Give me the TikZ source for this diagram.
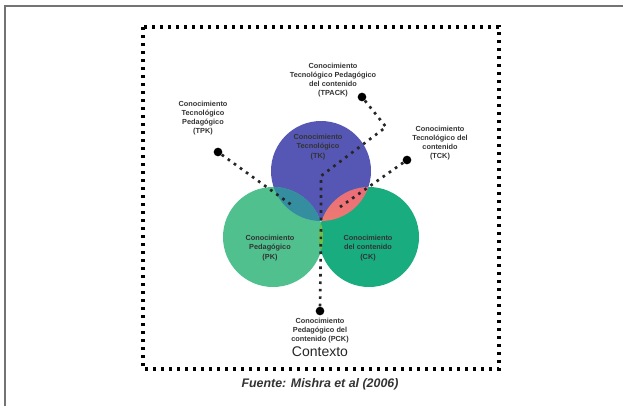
\documentclass[tikz,border=0pt]{standalone}
\usepackage{fontspec}
\setmainfont{Liberation Sans}
\usepackage{tikz}

\definecolor{tkblue}{RGB}{86,86,180}
\definecolor{pkgreen}{RGB}{80,192,142}
\definecolor{ckgreen}{RGB}{24,172,126}
\definecolor{tpkteal}{RGB}{52,142,160}
\definecolor{tckpink}{RGB}{236,108,122}
\definecolor{tckorange}{RGB}{240,150,96}
\definecolor{pckgreen}{RGB}{112,190,72}

\begin{document}
\begin{tikzpicture}[x=0.75pt, y=-0.75pt,
    lbl/.style={align=center, font=\fontsize{5.5}{6.9}\selectfont\bfseries, text=black!80, inner sep=0pt},
    lead/.style={line width=2pt, dash pattern=on 2pt off 3.6pt, black!85},
    knob/.style={circle, fill=black, inner sep=0pt, minimum size=6.5pt}]

        \useasboundingbox (0,0) rectangle (623,406);
        \draw [black!55, line width=0.9pt] (5,406) -- (5,6) -- (623,6);

        \draw [line width=2.6pt, dash pattern=on 2.6pt off 3.4pt] (143,27) rectangle (499,369);

        \coordinate (tk) at (321,171);
        \coordinate (pk) at (273,237);
        \coordinate (ck) at (369,237);

        \fill[tkblue] (tk) circle (37.5pt);
        \fill[pkgreen] (pk) circle (37.5pt);
        \fill[ckgreen] (ck) circle (37.5pt);

        \begin{scope}
          \clip (tk) circle (37.5pt);
          \fill[tpkteal] (pk) circle (37.5pt);
          \shade[top color=tckpink, bottom color=tckorange] (ck) circle (37.5pt);
        \end{scope}
        \begin{scope}
          \clip (pk) circle (37.5pt);
          \fill[pckgreen] (ck) circle (37.5pt);
        \end{scope}

        \node[lbl] (tktext) at (318,147) {Conocimiento\\Tecnológico\\(TK)};
        \node[lbl] (pktext) at (270,248) {Conocimiento\\Pedagógico\\(PK)};
        \node[lbl] (cktext) at (368,248) {Conocimiento\\del contenido\\(CK)};

        \node[lbl] (tpack) at (333,80) {Conocimiento\\Tecnológico Pedagógico\\del contenido\\(TPACK)};
        \node[lbl] (tpk) at (203,118) {Conocimiento\\Tecnológico\\Pedagógico\\(TPK)};
        \node[lbl] (tck) at (440,143) {Conocimiento\\Tecnológico del\\contenido\\(TCK)};
        \node[lbl, anchor=north] (pck) at (320,318) {Conocimiento\\Pedagógico del\\contenido (PCK)};
        \node[font=\fontsize{10.5}{12}\selectfont, text=black!85, inner sep=0pt, anchor=north] (ctx) at (pck.south |- 0,346) {Contexto};

        \node[font=\fontsize{9.3}{11}\selectfont\bfseries\itshape, text=black!80, inner sep=0pt] (src) at (320,384) {Fuente: Mishra et al (2006)};

        \coordinate (core) at (321,221);
        \coordinate (tpackbend) at (386,127);
        \coordinate (tpackmid) at (321,176);
        \coordinate (tpkend) at (293,206);
        \coordinate (tckend) at (340,207);
        \coordinate (pckend) at (321,226);

        \node[knob] (tpackdot) at (362,97) {};
        \node[knob] (tpkdot) at (218,152) {};
        \node[knob] (tckdot) at (407,160) {};
        \node[knob] (pckdot) at (320,311) {};

        \draw [lead] (tpackdot) -- (tpackbend) -- (tpackmid) -- (core);
        \draw [lead] (tpkdot) -- (tpkend);
        \draw [lead] (tckdot) -- (tckend);
        \draw [lead] (pckdot) -- (pckend);

      \end{tikzpicture}
\end{document}
